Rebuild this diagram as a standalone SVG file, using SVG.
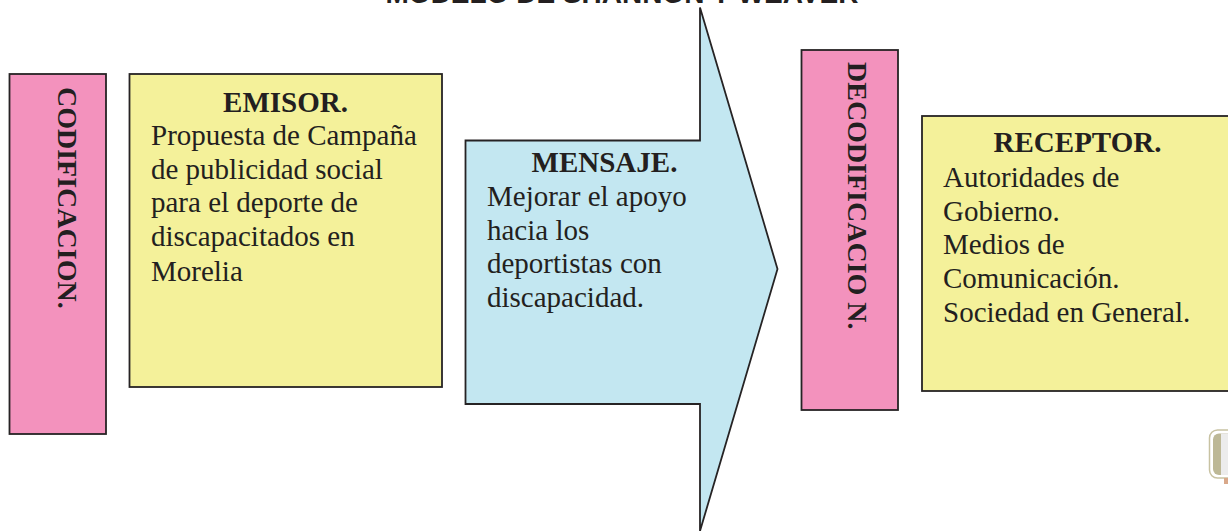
<svg xmlns="http://www.w3.org/2000/svg" width="1228" height="531" viewBox="0 0 1228 531">
<style>
.box{stroke:#262324;stroke-width:1.8}
.pink{fill:#F392BD}
.yellow{fill:#F4F19A}
.blue{fill:#C3E7F1}
.t{font-family:"Liberation Serif","Times New Roman",serif;font-size:29px;fill:#231F20}
.b{font-weight:bold}
.v{font-family:"Liberation Serif","Times New Roman",serif;font-size:28px;font-weight:bold;fill:#231F20}
.title{font-family:"Liberation Sans",Arial,sans-serif;font-size:28px;font-weight:bold;fill:#231F20}
</style>
<rect width="1228" height="531" fill="#ffffff"/>
<text class="title" x="622" y="2.5" text-anchor="middle">MODELO DE SHANNON Y WEAVER</text>
<g id="connectors"></g>
<g id="codificacion">
<rect class="box pink" x="9.5" y="74" width="96.5" height="360"/>
<text class="v" transform="translate(57.5,87) rotate(90)">CODIFICACION.</text>
</g>
<g id="emisor">
<rect class="box yellow" x="129.5" y="74" width="312.5" height="313"/>
<text class="t b" x="285.5" y="112" text-anchor="middle">EMISOR.</text>
<text class="t" x="151" y="145">Propuesta de Campaña</text>
<text class="t" x="151" y="178.5">de publicidad social</text>
<text class="t" x="151" y="212">para el deporte de</text>
<text class="t" x="151" y="245.5">discapacitados en</text>
<text class="t" x="151" y="281">Morelia</text>
</g>
<g id="mensaje">
<polygon class="box blue" points="465.5,140.5 700,140.5 700,7.5 777.5,269 700,531 700,404 465.5,404"/>
<text class="t b" x="604.5" y="172" text-anchor="middle">MENSAJE.</text>
<text class="t" x="487" y="206">Mejorar el apoyo</text>
<text class="t" x="487" y="239.5">hacia los</text>
<text class="t" x="487" y="273">deportistas con</text>
<text class="t" x="487" y="307">discapacidad.</text>
</g>
<g id="decodificacion">
<rect class="box pink" x="801.5" y="50" width="96.5" height="360"/>
<text class="v" transform="translate(847.5,62) rotate(90)">DECODIFICACIO N.</text>
</g>
<g id="receptor">
<rect class="box yellow" x="922" y="116" width="320" height="275"/>
<text class="t b" x="1077.5" y="152" text-anchor="middle">RECEPTOR.</text>
<text class="t" x="943" y="187">Autoridades de</text>
<text class="t" x="943" y="220.5">Gobierno.</text>
<text class="t" x="943" y="254">Medios de</text>
<text class="t" x="943" y="288">Comunicación.</text>
<text class="t" x="943" y="322">Sociedad en General.</text>
</g>
<g id="icon">
<rect x="1209.5" y="430" width="32" height="48" rx="8" fill="#ffffff" stroke="#c8c2a2" stroke-width="1.5"/>
<rect x="1213" y="433.5" width="30" height="41.5" rx="6" fill="#bdb896"/>
<rect x="1221" y="433.5" width="10" height="41.5" fill="#ececec"/>
<rect x="1224" y="478" width="4" height="6" fill="#d9a88a"/>
</g>
</svg>
